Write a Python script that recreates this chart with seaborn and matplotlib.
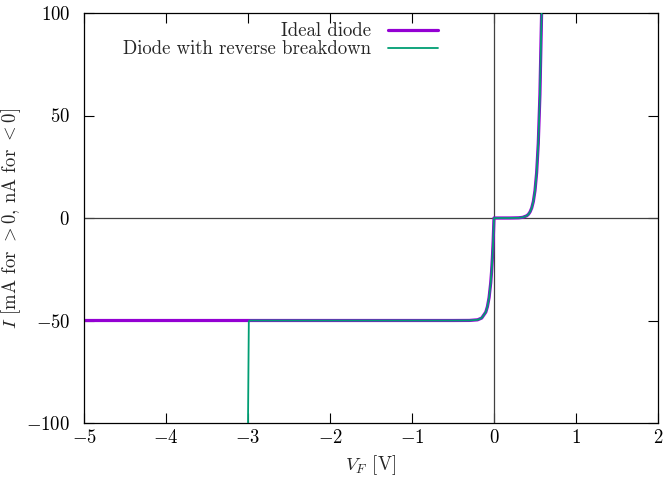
import matplotlib
matplotlib.use("Agg")
import matplotlib.pyplot as plt
import seaborn as sns
import pandas as pd

# Ideal diode: V in volts, I in nA for V<0, mA for V>0
ideal_v = [-5.0, -1.0, -0.5, -0.3, -0.2, -0.15, -0.1, -0.08, -0.06, -0.04, -0.03, -0.02, -0.01, 0.0,
           0.1, 0.2, 0.3, 0.35, 0.4, 0.42, 0.44, 0.46, 0.48, 0.5, 0.52, 0.54, 0.56, 0.58, 0.59]
ideal_i = [-50.0, -50.0, -50.0, -49.97, -49.66, -48.8, -45.9, -43.2, -38.8, -31.6, -26.4, -19.7, -11.1, 0.0,
           0.001, 0.007, 0.09, 0.32, 1.1, 1.8, 3.0, 4.9, 8.1, 13.4, 22.1, 36.5, 60.1, 99.1, 127.0]

# Diode with reverse breakdown at about -3 V
brk_v = [-3.005, -3.0, -2.99, -2.98, -1.0, -0.5, -0.3, -0.2, -0.15, -0.1, -0.08, -0.06, -0.04, -0.03, -0.02, -0.01, 0.0,
         0.1, 0.2, 0.3, 0.35, 0.4, 0.42, 0.44, 0.46, 0.48, 0.5, 0.52, 0.54, 0.56, 0.58, 0.59]
brk_i = [-120.0, -100.0, -50.5, -50.0, -50.0, -50.0, -49.97, -49.66, -48.8, -45.9, -43.2, -38.8, -31.6, -26.4, -19.7, -11.1, 0.0,
         0.001, 0.007, 0.09, 0.32, 1.1, 1.8, 3.0, 4.9, 8.1, 13.4, 22.1, 36.5, 60.1, 99.1, 127.0]

x_ticks = [-5, -4, -3, -2, -1, 0, 1, 2]
y_ticks = [-100, -50, 0, 50, 100]

sns.set_theme(style="ticks")
plt.rcParams["font.family"] = ["cmr10", "DejaVu Serif"]
plt.rcParams["mathtext.fontset"] = "cm"
plt.rcParams["axes.formatter.use_mathtext"] = True
plt.rcParams["axes.unicode_minus"] = True

df_ideal = pd.DataFrame({"V": ideal_v, "I": ideal_i})
df_brk = pd.DataFrame({"V": brk_v, "I": brk_i})

fig = plt.figure(figsize=(6.69, 4.8), dpi=100)
ax = fig.add_axes([84 / 669, 57 / 480, 574 / 669, 410 / 480])

ax.axhline(0, color="#404040", lw=0.9, zorder=1)
ax.axvline(0, color="#404040", lw=0.9, zorder=1)

sns.lineplot(data=df_ideal, x="V", y="I", sort=False, estimator=None, ax=ax,
             color="#9400d3", lw=2.3, label="Ideal diode", zorder=2)
sns.lineplot(data=df_brk, x="V", y="I", sort=False, estimator=None, ax=ax,
             color="#009e73", lw=1.3, label="Diode with reverse breakdown", zorder=3)

ax.set_xlim(-5, 2)
ax.set_ylim(-100, 100)
ax.set_xticks(x_ticks)
ax.set_yticks(y_ticks)
ax.tick_params(direction="in", length=7, width=0.8, top=True, right=True, labelsize=13.5, colors="black")
ax.tick_params(axis="y", pad=10)
ax.tick_params(axis="x", pad=4)
for s in ax.spines.values():
    s.set_linewidth(0.9)
    s.set_color("black")

ax.set_xlabel(r"$V_F$ [V]", fontsize=13.5, labelpad=5)
ax.set_ylabel(r"$I$ [mA for ${>}$0, nA for ${<}$0]", fontsize=13.5, labelpad=2)

leg = ax.legend(loc="upper right", bbox_to_anchor=(0.637, 1.005), frameon=False, markerfirst=False,
                fontsize=13.5, handlelength=2.7, handletextpad=0.9, labelspacing=0.02, borderaxespad=0.2)
for t in leg.get_texts():
    t.set_ha("right")
leg._legend_box.align = "right"

fig.savefig("out.png", dpi=100)
